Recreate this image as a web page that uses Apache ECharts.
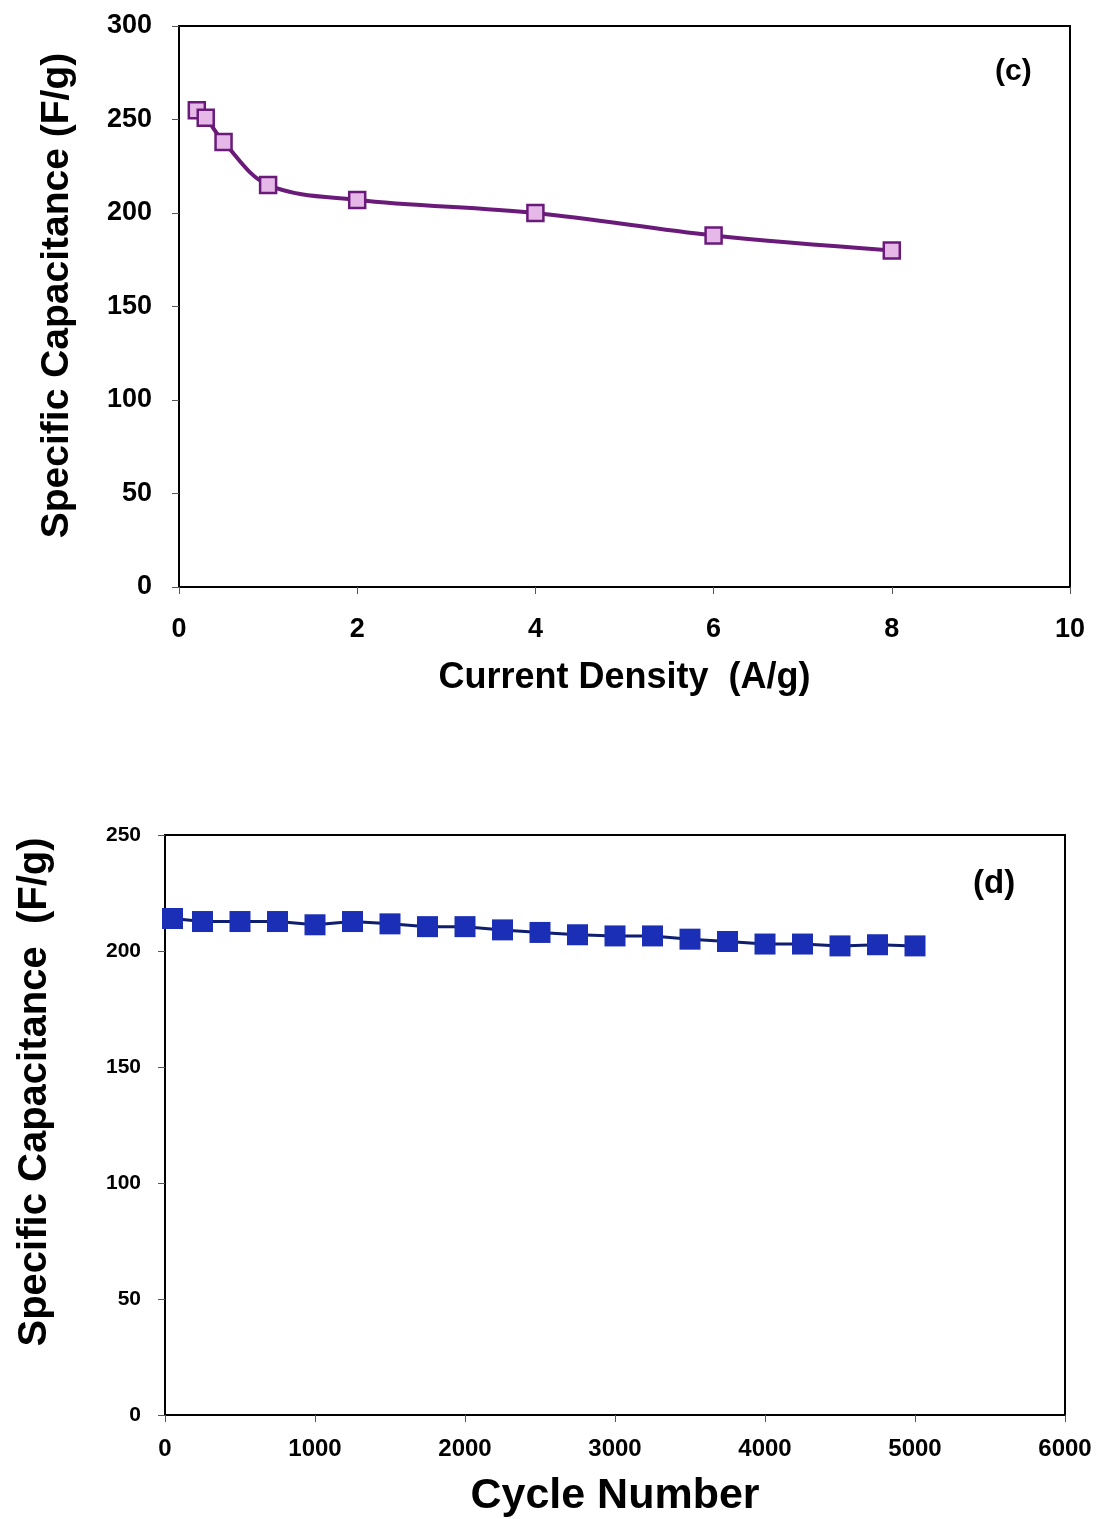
<!DOCTYPE html>
<html>
<head>
<meta charset="utf-8">
<script src="https://cdn.jsdelivr.net/npm/echarts@6/dist/echarts.min.js"></script>
<style>
  html, body { margin: 0; padding: 0; background: #fff; }
  #chart { width: 1098px; height: 1519px; }
</style>
</head>
<body>
<div id="chart"></div>
<script>
// (c) rate capability
const currentDensity = [0.2, 0.3, 0.5, 1, 2, 4, 6, 8]
const capRate = [255, 251, 238, 215, 207, 200, 188, 180]

// (d) cycling stability
const cycleNo = [50, 250, 500, 750, 1000, 1250, 1500, 1750, 2000, 2250, 2500,
  2750, 3000, 3250, 3500, 3750, 4000, 4250, 4500, 4750, 5000]
const capCycle = [214, 212.7, 212.7, 212.7, 211.3, 212.7, 211.7, 210.5, 210.5, 209.1, 208,
  207, 206.5, 206.5, 205.1, 204.1, 203, 203, 202.2, 202.7, 202.2]

const font = '"Liberation Sans", Arial, sans-serif'

const chart = echarts.init(document.getElementById('chart'))

// 公共坐标轴样式
const axisCommon = (size, margin) => ({
  axisLine: { show: true, onZero: false, lineStyle: { color: '#000', width: 2 } },
  axisTick: { show: true, inside: false, length: 7, lineStyle: { color: '#555', width: 1 } },
  splitLine: { show: false },
  axisLabel: {
    color: '#000', fontFamily: font, fontWeight: 'bold', fontSize: size, margin: margin,
    formatter: v => String(v)
  }
})

const option = {
  backgroundColor: '#fff',
  animation: false,
  title: [
    { text: '(c)', left: 990, top: 52, textStyle: { fontFamily: font, fontWeight: 'bold', fontSize: 30, color: '#000' } },
    { text: '(d)', left: 968, top: 862, textStyle: { fontFamily: font, fontWeight: 'bold', fontSize: 33, color: '#000' } }
  ],
  grid: [
    { left: 179, top: 26, width: 891, height: 561, show: true, borderColor: '#000', borderWidth: 2, outerBoundsMode: 'none', containLabel: false },
    { left: 165, top: 835, width: 900, height: 580, show: true, borderColor: '#000', borderWidth: 2, outerBoundsMode: 'none', containLabel: false }
  ],
  xAxis: [
    {
      gridIndex: 0, type: 'value', min: 0, max: 10, interval: 2,
      name: 'Current Density  (A/g)', nameLocation: 'middle', nameGap: 73,
      nameTextStyle: { fontFamily: font, fontWeight: 'bold', fontSize: 36, color: '#000' },
      ...axisCommon(27, 29)
    },
    {
      gridIndex: 1, type: 'value', min: 0, max: 6000, interval: 1000,
      name: 'Cycle Number', nameLocation: 'middle', nameGap: 60,
      nameTextStyle: { fontFamily: font, fontWeight: 'bold', fontSize: 43, color: '#000' },
      ...axisCommon(24, 22)
    }
  ],
  yAxis: [
    {
      gridIndex: 0, type: 'value', min: 0, max: 300, interval: 50,
      name: 'Specific Capacitance (F/g)', nameLocation: 'middle', nameGap: 102,
      nameTextStyle: { fontFamily: font, fontWeight: 'bold', fontSize: 39, color: '#000', padding: [0, 0, 0, 22] },
      ...axisCommon(27, 27)
    },
    {
      gridIndex: 1, type: 'value', min: 0, max: 250, interval: 50,
      name: 'Specific Capacitance  (F/g)', nameLocation: 'middle', nameGap: 110,
      nameTextStyle: { fontFamily: font, fontWeight: 'bold', fontSize: 40, color: '#000', padding: [0, 0, 0, 66] },
      ...axisCommon(21, 24)
    }
  ],
  series: [
    {
      name: 'rate', type: 'line', xAxisIndex: 0, yAxisIndex: 0,
      data: currentDensity.map((x, i) => [x, capRate[i]]),
      smooth: 0.35,
      symbol: 'rect', symbolSize: 16,
      lineStyle: { color: '#6a1b7a', width: 4 },
      itemStyle: { color: '#e6b8e8', borderColor: '#6a1b7a', borderWidth: 2.5 }
    },
    {
      name: 'cycle', type: 'line', xAxisIndex: 1, yAxisIndex: 1,
      data: cycleNo.map((x, i) => [x, capCycle[i]]),
      symbol: 'rect', symbolSize: 21,
      lineStyle: { color: '#0f1e6e', width: 3 },
      itemStyle: { color: '#1a2fb5', borderColor: '#1a2fb5', borderWidth: 0 }
    }
  ]
}

chart.setOption(option)
</script>
</body>
</html>
